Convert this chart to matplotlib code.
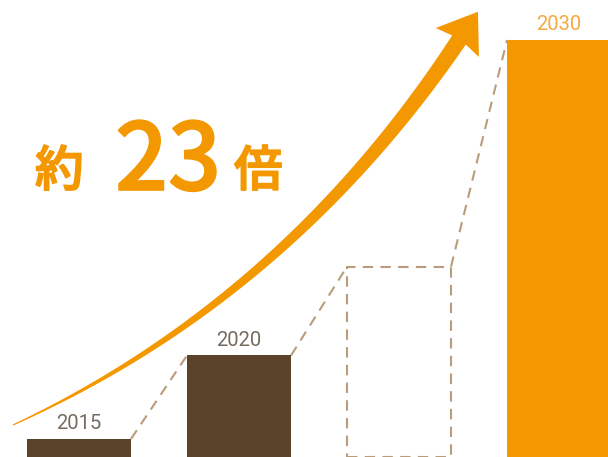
import numpy as np
import matplotlib
matplotlib.use("Agg")
import matplotlib.pyplot as plt
import matplotlib.patheffects as pe
from matplotlib.patches import Polygon

# data (2015 = 1)
years = ["2015", "2020", "2025", "2030"]
values = [1.0, 5.6, 10.5, 23.0]
filled = [True, True, False, True]
bar_colors = ["#5b4329", "#5b4329", "none", "#f39800"]
label_colors = ["#756a5e", "#756a5e", None, "#f5a940"]
headline = ["約", "23", "倍"]

ORANGE = "#f39800"
DASH = "#b99c7c"

W, H = 608, 457
fig = plt.figure(figsize=(W / 100, H / 100), dpi=100)
ax = fig.add_axes([0, 0, 1, 1])
ax.set_xlim(-0.494, 3.306)
ax.set_ylim(0, 25.2)
ax.axis("off")

x = np.arange(len(years))
bw = 0.65

# bars
for i in range(len(years)):
    if filled[i]:
        ax.bar(x[i], values[i], width=bw, color=bar_colors[i], zorder=2)
    else:
        ax.bar(x[i], values[i], width=bw, facecolor="none", edgecolor=DASH,
               linewidth=1.5, linestyle=(0, (5, 3.5)), zorder=2)

# dashed links between bar tops
for i in range(len(years) - 1):
    ax.plot([x[i] + bw / 2, x[i + 1] - bw / 2], [values[i], values[i + 1]],
            color=DASH, lw=1.5, linestyle=(0, (5, 3.5)), zorder=1)

# year labels
for i in range(len(years)):
    if label_colors[i] is None:
        continue
    ax.text(x[i], values[i] + 0.3, years[i], ha="center", va="bottom",
            fontsize=14.5, color=label_colors[i], family="Roboto")

# curved tapered arrow (pixel space -> axes fraction)
p0 = np.array([13.0, 425.0])
p1 = np.array([285.0, 300.0])
p2 = np.array([459.0, 40.0])
t = np.linspace(0, 1, 200)
pts = ((1 - t) ** 2)[:, None] * p0 + (2 * (1 - t) * t)[:, None] * p1 + (t ** 2)[:, None] * p2
d = np.gradient(pts, axis=0)
d /= np.linalg.norm(d, axis=1)[:, None]
nrm = np.stack([-d[:, 1], d[:, 0]], axis=1)
wid = 0.6 + 7.6 * t
left = pts + nrm * wid[:, None]
right = pts - nrm * wid[:, None]
dir_end = d[-1]
n_end = nrm[-1]
tip = p2 + dir_end * 34
wing_l = p2 + n_end * 26 - dir_end * 3
wing_r = p2 - n_end * 26 - dir_end * 3
outline = np.vstack([left, wing_l[None], tip[None], wing_r[None], right[::-1]])
outline_ax = np.column_stack([outline[:, 0] / W, 1 - outline[:, 1] / H])
ax.add_patch(Polygon(outline_ax, closed=True, transform=ax.transAxes,
                     facecolor=ORANGE, edgecolor="none", zorder=3))

# headline
jp = ["Noto Sans CJK JP", "DejaVu Sans"]
thick = [pe.withStroke(linewidth=1.2, foreground=ORANGE)]
ax.text(35 / W, 1 - 186 / H, headline[0], transform=ax.transAxes, fontsize=35,
        color=ORANGE, family=jp, fontweight="medium", va="baseline",
        path_effects=thick)
ax.text(115 / W, 1 - 190 / H, headline[1], transform=ax.transAxes, fontsize=67,
        color=ORANGE, family=jp, fontweight="medium", va="baseline",
        path_effects=thick)
ax.text(234 / W, 1 - 186 / H, headline[2], transform=ax.transAxes, fontsize=35,
        color=ORANGE, family=jp, fontweight="medium", va="baseline",
        path_effects=thick)

fig.savefig("out.png", dpi=100)
